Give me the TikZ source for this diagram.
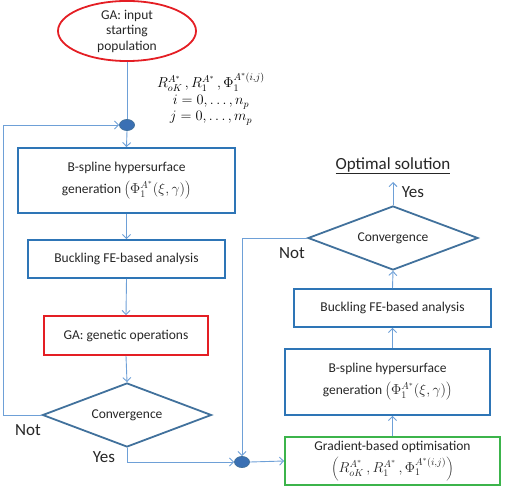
\documentclass[tikz,border=0pt]{standalone}
\usepackage{fontspec}
\setmainfont{Carlito}
\usetikzlibrary{arrows.meta,shapes.geometric}
\definecolor{boxblue}{RGB}{46,117,182}
\definecolor{diablue}{RGB}{65,113,156}
\definecolor{lineblue}{RGB}{110,160,215}
\definecolor{redc}{RGB}{228,30,36}
\definecolor{greenc}{RGB}{60,180,75}
\definecolor{dotfill}{RGB}{58,112,180}
\newcommand\mymath[1]{{\fontsize{14.5}{17}\selectfont$#1$}}
\begin{document}
\begin{tikzpicture}[x=1pt,y=-1pt,
  txt/.style={font=\fontsize{13.5}{15.5}\selectfont, text=black!85},
  bbox/.style={draw=boxblue, line width=1.8pt, rectangle, inner sep=0pt, align=center, txt},
  rbox/.style={bbox, draw=redc},
  gbox/.style={bbox, draw=greenc},
  dia/.style={draw=diablue, line width=1.8pt, diamond, inner sep=0pt, txt},
  junc/.style={draw=diablue, fill=dotfill, ellipse, line width=0.8pt, minimum width=15pt, minimum height=11pt, inner sep=0pt},
  conn/.style={draw=lineblue, line width=0.9pt},
  arr/.style={conn, -{Straight Barb[length=4pt,width=8pt]}},
  biglabel/.style={font=\fontsize{17}{20}\selectfont, text=black!85}
]
\useasboundingbox (0,0) rectangle (508,489);

% left column
\node[draw=redc, line width=1.8pt, ellipse, minimum width=138pt, minimum height=52pt, inner sep=0pt, align=center, txt] (start) at (127,31) {GA: input\\starting\\population};
\node[font=\fontsize{14}{16}\selectfont, align=center, inner sep=0pt] (params) at (211,99)
  {$R_{oK}^{A^*}\,,R_1^{A^*}\,,\Phi_1^{A^*(i,j)}$\\[1pt]$i=0,\ldots,n_p$\\$j=0,\ldots,m_p$};
\node[junc] (d1) at (127,125) {};
\node[bbox, minimum width=217pt, minimum height=65pt, font=\fontsize{13.5}{22}\selectfont] (bs1) at (126.5,180.5)
  {B-spline hypersurface\\generation \mymath{\left(\Phi_1^{A^*}(\xi,\gamma)\right)}};
\node[bbox, minimum width=197pt, minimum height=38pt] (fe1) at (126.5,259) {Buckling FE-based analysis};
\node[rbox, minimum width=164pt, minimum height=39pt] (ga) at (126,335.5) {GA: genetic operations};
\node[dia, minimum width=169pt, minimum height=64pt, aspect=2.64] (cv1) at (127,415) {Convergence};
\node[biglabel] (not1) at (28,430) {Not};
\node[biglabel] (yes1) at (104,457) {Yes};

% right column
\node[junc] (d2) at (242,462) {};
\node[gbox, minimum width=215pt, minimum height=48pt, font=\fontsize{13.5}{20}\selectfont] (grad) at (392.5,461)
  {Gradient-based optimisation\\[2pt]\mymath{\left(R_{oK}^{A^*}\,,R_1^{A^*}\,,\Phi_1^{A^*(i,j)}\right)}};
\node[bbox, minimum width=205pt, minimum height=66pt, font=\fontsize{13.5}{22}\selectfont] (bs2) at (387.5,382)
  {B-spline hypersurface\\generation \mymath{\left(\Phi_1^{A^*}(\xi,\gamma)\right)}};
\node[bbox, minimum width=197pt, minimum height=38pt] (fe2) at (392.5,308) {Buckling FE-based analysis};
\node[dia, minimum width=170pt, minimum height=64pt, aspect=2.66] (cv2) at (393,238) {Convergence};
\node[biglabel] (not2) at (292,253) {Not};
\node[biglabel] (yes2) at (413,192) {Yes};
\node[biglabel] (opt) at (393,166) {\underline{Optimal solution}};
\coordinate (optin) at (393,182);

% connectors
\draw[conn] (start.south) -- (d1.north);
\draw[arr] (cv1.west) -- (3,415) -- (3,125) -- (d1.west);
\draw[arr] (d1.south) -- (bs1.north);
\draw[arr] (bs1.south) -- (fe1.north);
\draw[arr] (fe1.south) -- (ga.north);
\draw[arr] (ga.south) -- (cv1.north);
\draw[arr] (cv1.south) -- (127,462) -- (d2.west);
\draw[arr] (cv2.west) -- (242,238) -- (d2.north);
\draw[arr] (d2.east) -- (grad.west);
\draw[arr] (grad.north) -- (grad.north |- bs2.south);
\draw[arr] (grad.north |- bs2.north) -- (fe2.south);
\draw[arr] (fe2.north) -- (cv2.south);
\draw[arr] (cv2.north) -- (optin);
\end{tikzpicture}
\end{document}
